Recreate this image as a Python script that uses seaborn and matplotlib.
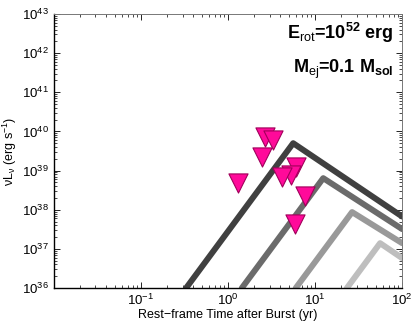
import numpy as np
import pandas as pd
import matplotlib
matplotlib.use("Agg")
import matplotlib.pyplot as plt
import seaborn as sns

# model light curves (vertices: start, peak, end) for four cases
curve_names = ["a", "b", "c", "d"]
curve_t = [
    [0.33, 5.6, 100],
    [1.44, 12.4, 100],
    [6.0, 26.6, 100],
    [23.2, 55.8, 100],
]
curve_L = [
    [1e36, 5.0e39, 6.7e37],
    [1e36, 6.4e38, 3.2e37],
    [1e36, 8.7e37, 1.4e37],
    [1e36, 1.4e37, 5.8e36],
]
curve_colors = ["#404040", "#6b6b6b", "#999999", "#bebebe"]

# upper limits
lim_t = [2.68, 3.27, 2.46, 1.31, 6.0, 5.26, 4.18, 7.74, 5.89]
lim_L = [7.1e39, 5.9e39, 2.2e39, 4.7e38, 1.22e39, 7.6e38, 6.9e38, 2.3e38, 4.4e37]

sns.set_style("ticks")
plt.rcParams["font.family"] = ["Liberation Sans", "DejaVu Sans"]
plt.rcParams["mathtext.fontset"] = "custom"
plt.rcParams["mathtext.rm"] = "Liberation Sans"
plt.rcParams["mathtext.it"] = "Liberation Sans:italic"
plt.rcParams["mathtext.bf"] = "Liberation Sans:bold"
plt.rcParams["mathtext.default"] = "regular"
plt.rcParams["text.color"] = "black"
plt.rcParams["axes.labelcolor"] = "black"
plt.rcParams["xtick.color"] = "black"
plt.rcParams["ytick.color"] = "black"

rows = []
for name, ts, Ls in zip(curve_names, curve_t, curve_L):
    for t, L in zip(ts, Ls):
        rows.append({"curve": name, "t": t, "L": L})
curves = pd.DataFrame(rows)
lims = pd.DataFrame({"t": lim_t, "L": lim_L})

fig = plt.figure(figsize=(4.15, 3.24), dpi=100)
ax = fig.add_axes([0.130, 0.111, 0.839, 0.846])

sns.lineplot(data=curves, x="t", y="L", hue="curve", palette=curve_colors,
             linewidth=4.3, legend=False, ax=ax, sort=False, estimator=None)
sns.scatterplot(data=lims, x="t", y="L", marker="v", s=190, color="#ff0a9a",
                edgecolor="#a0005a", linewidth=0.8, ax=ax, zorder=5)

ax.set_xscale("log")
ax.set_yscale("log")
ax.set_xlim(0.01, 100)
ax.set_ylim(1e36, 1e43)
ax.set_xticks([0.1, 1, 10, 100])
ax.set_yticks([10.0**k for k in range(36, 44)])
ax.tick_params(which="both", direction="in", top=True, right=True, labelsize=9.5)
ax.tick_params(which="major", length=4, width=0.6)
ax.tick_params(which="minor", length=2, width=0.5)
ax.xaxis.set_minor_locator(matplotlib.ticker.LogLocator(base=10, subs=np.arange(2, 10)))
ax.yaxis.set_minor_locator(matplotlib.ticker.LogLocator(base=10, subs=np.arange(2, 10)))
ax.xaxis.set_minor_formatter(matplotlib.ticker.NullFormatter())
ax.yaxis.set_minor_formatter(matplotlib.ticker.NullFormatter())

for side in ["left", "bottom"]:
    ax.spines[side].set_color("black")
    ax.spines[side].set_linewidth(1.0)
for side in ["top", "right"]:
    ax.spines[side].set_visible(True)
    ax.spines[side].set_color("#777777")
    ax.spines[side].set_linewidth(0.7)

ax.set_xlabel("Rest\u2212frame Time after Burst (yr)", fontsize=9, labelpad=1)
ax.set_ylabel(r"$\nu L_\nu$ (erg s$^{-1}$)", fontsize=9, labelpad=2)

ax.text(0.975, 0.909, r"E$_{\mathrm{rot}}$=10$^{52}$ erg",
        transform=ax.transAxes, ha="right", va="baseline", fontsize=13,
        fontweight="bold")
ax.text(0.975, 0.785, r"M$_{\mathrm{ej}}$=0.1 M$_{sol}$",
        transform=ax.transAxes, ha="right", va="baseline", fontsize=13,
        fontweight="bold")

fig.savefig("out.png", dpi=100)
